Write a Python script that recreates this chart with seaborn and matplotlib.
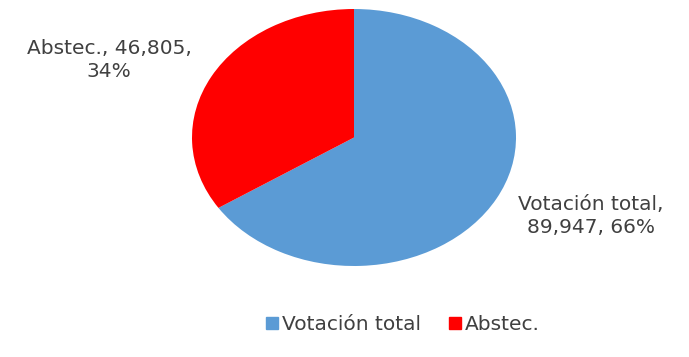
import matplotlib
matplotlib.use('Agg')
import matplotlib.pyplot as plt
import seaborn as sns
from matplotlib.lines import Line2D

# datos
labels = ['Votación total', 'Abstec.']
values = [89947, 46805]
percents = [66, 34]
colors = ['#5B9BD5', '#FF0000']

sns.set_theme(style='white')
plt.rcParams['font.family'] = ['DejaVu Sans']

W, H = 689, 357
fig = plt.figure(figsize=(W / 100, H / 100), dpi=100)
ax = fig.add_axes([192 / W, 1 - 266 / H, 324 / W, 257 / H])

ax.pie(values, colors=colors, startangle=90, counterclock=False,
       wedgeprops={'linewidth': 0})
ax.set_aspect('auto')
ax.set_xlim(-1, 1)
ax.set_ylim(-1, 1)

txt_color = '#404040'
fs = 14.5
# Votación total a la derecha, Abstec. a la izquierda
fig.text(591 / W, 1 - 216 / H, labels[0] + ',\n' + format(values[0], ',') + ', %d%%' % percents[0],
         ha='center', va='center', fontsize=fs, color=txt_color, linespacing=1.3)
fig.text(109 / W, 1 - 60 / H, labels[1] + ', ' + format(values[1], ',') + ',\n%d%%' % percents[1],
         ha='center', va='center', fontsize=fs, color=txt_color, linespacing=1.3)

handles = [Line2D([0], [0], marker='s', linestyle='', markersize=9,
                  markerfacecolor=c, markeredgecolor=c) for c in colors]
fig.legend(handles, labels, loc='center', bbox_to_anchor=(403 / W, 1 - 325 / H),
           ncol=2, frameon=False, fontsize=fs, labelcolor=txt_color,
           handletextpad=0.2, columnspacing=1.4, handlelength=0.6)

plt.savefig('out.png', dpi=100)
